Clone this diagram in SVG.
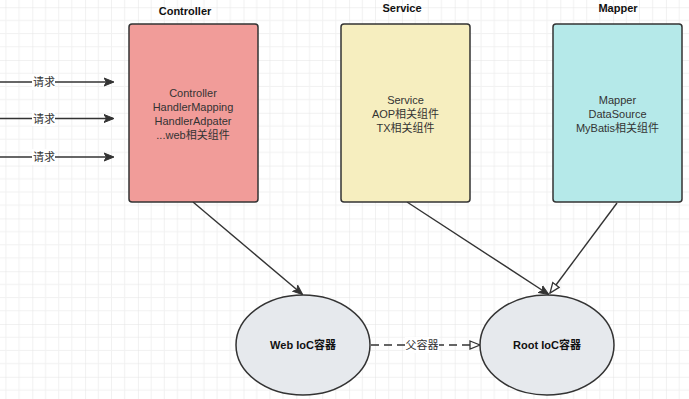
<svg xmlns="http://www.w3.org/2000/svg" width="689" height="399" viewBox="0 0 689 399">
<defs>
<pattern id="grid" patternUnits="userSpaceOnUse" x="32.3" y="7.2" width="52.8" height="52.8">
<path d="M13.2 0V52.8M26.4 0V52.8M39.6 0V52.8M0 13.2H52.8M0 26.4H52.8M0 39.6H52.8" stroke="#f1f1f1" stroke-width="1" fill="none"/>
<path d="M0 0V52.8M0 0H52.8" stroke="#e4e4e4" stroke-width="1" fill="none"/>
</pattern>
<marker id="arr" viewBox="0 0 10 10" refX="9" refY="5" markerWidth="10" markerHeight="10" markerUnits="userSpaceOnUse" orient="auto">
<path d="M0 1L10 5L0 9L2.5 5Z" fill="#333" stroke="#333" stroke-width="1"/>
</marker>
<marker id="open" viewBox="0 0 12 10" refX="11" refY="5" markerWidth="12" markerHeight="10" markerUnits="userSpaceOnUse" orient="auto">
<path d="M1 1L11 5L1 9Z" fill="#fff" stroke="#333" stroke-width="1.3"/>
</marker>
<style>
.box{stroke:#333;stroke-width:1.5}
.ell{fill:#e6e9ed;stroke:#333;stroke-width:1.5}
.t{font-family:"Liberation Sans","Noto Sans CJK SC",Arial,sans-serif;font-size:11px;fill:#333;text-anchor:middle}
.b{font-weight:bold;fill:#111}
.c{stroke:#333;stroke-width:1.4;fill:none}
</style>
</defs>
<rect width="689" height="399" fill="#fff"/>
<rect width="689" height="399" fill="url(#grid)"/>
<g id="connectors">
<line class="c" x1="0" y1="82" x2="113" y2="82" marker-end="url(#arr)"/>
<line class="c" x1="0" y1="118.5" x2="113" y2="118.5" marker-end="url(#arr)"/>
<line class="c" x1="0" y1="157" x2="113" y2="157" marker-end="url(#arr)"/>
<rect x="32" y="74" width="23" height="16" fill="#fff"/>
<rect x="32" y="110" width="23" height="16" fill="#fff"/>
<rect x="32" y="149" width="23" height="16" fill="#fff"/>
<text class="t" x="44" y="86">请求</text>
<text class="t" x="44" y="122.5">请求</text>
<text class="t" x="44" y="161">请求</text>
<line class="c" x1="193" y1="202" x2="302" y2="294" marker-end="url(#arr)"/>
<line class="c" x1="407" y1="202" x2="548" y2="294" marker-end="url(#arr)"/>
<line class="c" x1="617" y1="203" x2="550" y2="293" marker-end="url(#open)"/>
<line class="c" x1="371" y1="345" x2="480" y2="345" stroke-dasharray="8 5" marker-end="url(#open)"/>
<rect x="405" y="337" width="34" height="16" fill="#fff"/>
<text class="t" x="422" y="349">父容器</text>
</g>
<g id="controller">
<text class="t b" x="185" y="15">Controller</text>
<rect class="box" x="129" y="24" width="129" height="178" rx="3" fill="#f19c99"/>
<text class="t" x="193" y="97">Controller</text>
<text class="t" x="193" y="111">HandlerMapping</text>
<text class="t" x="193" y="125">HandlerAdpater</text>
<text class="t" x="193" y="139">...web相关组件</text>
</g>
<g id="service">
<text class="t b" x="402" y="11.5">Service</text>
<rect class="box" x="341" y="24" width="129" height="178" rx="3" fill="#f6eebf"/>
<text class="t" x="405.5" y="104">Service</text>
<text class="t" x="405.5" y="118">AOP相关组件</text>
<text class="t" x="405.5" y="132">TX相关组件</text>
</g>
<g id="mapper">
<text class="t b" x="618" y="11.5">Mapper</text>
<rect class="box" x="553" y="24" width="129" height="178" rx="3" fill="#b5e9e9"/>
<text class="t" x="617.5" y="104">Mapper</text>
<text class="t" x="617.5" y="118">DataSource</text>
<text class="t" x="617.5" y="132">MyBatis相关组件</text>
</g>
<g id="web-ioc">
<ellipse class="ell" cx="303" cy="345" rx="67" ry="50"/>
<text class="t b" x="303" y="349">Web IoC容器</text>
</g>
<g id="root-ioc">
<ellipse class="ell" cx="547" cy="345" rx="67" ry="50"/>
<text class="t b" x="547" y="349">Root IoC容器</text>
</g>
</svg>
